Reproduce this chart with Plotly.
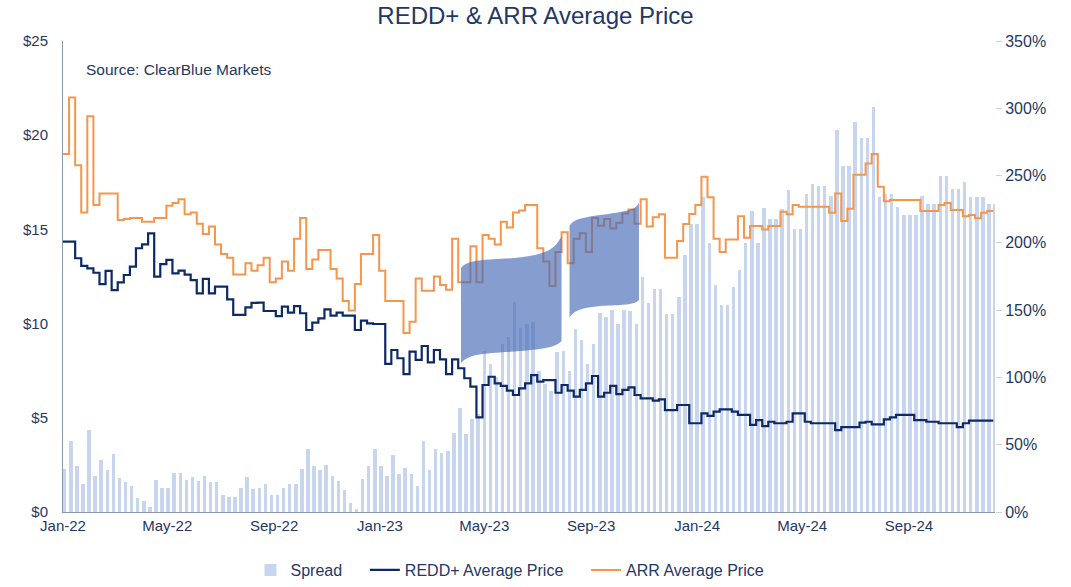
import pandas as pd
import plotly.graph_objects as go

# ---------------- data (weekly, starting 1 Jan 2022) ----------------
start_date = "2022-01-01"

arr_price = [
    19.0, 22.0, 18.4, 15.9, 21.0, 16.3, 16.9, 16.9, 16.9, 15.5,
    15.55, 15.6, 15.6, 15.4, 15.4, 15.6, 15.6, 16.25, 16.4, 16.6,
    15.8, 15.9, 15.3, 14.75, 15.15, 14.2, 13.7, 13.5, 12.6, 12.6,
    13.2, 12.8, 13.1, 13.5, 12.2, 12.4, 13.3, 12.8, 14.5, 15.6,
    12.9, 13.4, 13.9, 13.9, 12.9, 12.4, 11.2, 10.7, 12.1, 13.7,
    13.7, 14.7, 12.8, 11.2, 11.2, 11.2, 9.5, 10.1, 12.4, 11.75,
    11.75, 12.5, 12.05, 11.8, 14.5, 12.2, 12.2, 14.1, 12.2, 14.7,
    14.5, 14.2, 15.4, 15.1, 15.9, 16.0, 16.3, 16.3, 14.0, 13.3,
    12.0, 13.8, 14.85, 13.2, 14.5, 14.8, 13.8, 15.6, 15.2, 15.55,
    15.05, 15.35, 15.85, 16.05, 15.3, 16.6, 15.15, 15.64, 15.8, 13.5,
    13.5, 14.38, 15.29, 15.82, 16.3, 17.8, 16.7, 14.5, 13.8, 14.47,
    14.47, 15.7, 14.56, 15.18, 15.18, 15.0, 15.18, 15.18, 15.94, 15.8,
    16.3, 16.2, 16.2, 16.2, 16.2, 16.2, 15.89, 16.9, 15.45, 16.1,
    17.9, 17.9, 18.5, 19.0, 17.27, 16.5, 16.56, 16.56, 16.56, 16.56,
    16.56, 15.98, 15.98, 15.98, 16.3, 16.4, 16.03, 16.03, 15.7, 15.76,
    15.59, 15.89, 15.98, 15.98,
]

redd_price = [
    14.35, 14.35, 13.47, 13.06, 12.93, 12.7, 12.1, 12.8, 11.78, 12.19,
    12.58, 13.02, 14.0, 14.2, 14.79, 12.49, 13.16, 13.38, 12.67, 12.81,
    12.6, 12.31, 11.6, 12.37, 11.6, 11.96, 11.96, 11.29, 10.46, 10.46,
    10.86, 11.1, 11.11, 10.67, 10.67, 10.4, 10.9, 10.58, 10.93, 10.55,
    9.66, 10.05, 10.28, 10.76, 10.42, 10.58, 10.42, 10.42, 9.66, 10.16,
    10.01, 9.98, 9.98, 7.86, 8.6, 8.16, 7.32, 8.51, 8.07, 8.81,
    7.94, 8.6, 8.1, 7.32, 8.1, 7.63, 7.1, 6.65, 5.02, 6.74,
    7.18, 6.83, 6.69, 6.44, 6.21, 6.56, 6.83, 7.27, 6.92, 7.0,
    7.0, 6.33, 6.74, 6.44, 6.12, 6.48, 6.83, 7.22, 6.12, 6.33,
    6.69, 6.26, 6.48, 6.62, 6.21, 6.03, 6.03, 5.91, 5.98, 5.41,
    5.41, 5.68, 5.68, 4.71, 4.71, 5.24, 5.1, 5.33, 5.45, 5.45,
    5.33, 5.15, 5.15, 4.62, 4.88, 4.56, 4.79, 4.71, 4.71, 4.79,
    5.24, 5.24, 4.79, 4.71, 4.71, 4.71, 4.71, 4.35, 4.5, 4.5,
    4.5, 4.74, 4.79, 4.65, 4.65, 4.92, 5.02, 5.15, 5.15, 5.15,
    4.88, 4.88, 4.79, 4.79, 4.71, 4.71, 4.71, 4.5, 4.71, 4.85,
    4.85, 4.85, 4.85, 4.85,
]

spread_pct = [
    32, 53, 34, 21, 61, 27, 39, 31, 43, 25,
    22.5, 19, 10.7, 8, 3.5, 24, 18, 18, 29, 29,
    24, 26, 23, 27, 22, 22, 13, 11, 11, 18,
    26, 17, 17.5, 21, 13, 13, 18, 21, 21, 32,
    47, 34, 31, 35, 27, 23, 16, 6.4, 2, 24.5,
    34, 47, 34, 27, 42, 28, 33, 28, 19, 53,
    31.5, 47, 44, 45.5, 59, 77, 58, 69, 73, 120,
    110, 100, 125, 130, 156, 137, 140, 141, 105, 95,
    90, 119, 120, 105, 136, 128, 110, 125, 148, 145,
    150, 140, 150, 149, 140, 175, 155, 166, 166, 147,
    147, 160, 191, 214, 214, 234, 200, 169, 154, 154,
    167, 180, 200, 224, 200, 226, 218, 218, 225, 239,
    210, 210, 236, 244, 242, 242, 235, 284, 257, 257,
    290, 278, 278, 301, 234, 236, 236, 227, 221, 221,
    221, 235, 229, 229, 250, 250, 240, 240, 245, 234,
    234, 234, 229, 229,
]

price_ticks = [0, 5, 10, 15, 20, 25]
pct_ticks = [0, 50, 100, 150, 200, 250, 300, 350]

dates = pd.date_range(start_date, periods=len(redd_price), freq="7D")

# ---------------- styling ----------------
NAVY_TEXT = "#1f3864"
REDD_COLOR = "#0d2a66"
ARR_COLOR = "#f5964a"
BAR_COLOR = "rgba(143,172,222,0.5)"
AXIS_LINE = "#8c97b3"
FONT = "Liberation Sans, Arial, sans-serif"

W, H = 1071, 587
L, R, T, B = 63, 76, 41, 75
PW, PH = W - L - R, H - T - B


def paper(px, py):
    return (px - L) / PW, (H - B - py) / PH


def logo_path(points):
    parts = []
    for cmd, pts in points:
        coords = " ".join("%.4f,%.4f" % paper(x, y) for x, y in pts)
        parts.append(cmd + " " + coords)
    return " ".join(parts) + " Z"


fig = go.Figure()

fig.add_trace(go.Bar(
    x=dates, y=spread_pct, name="Spread\u00a0\u00a0\u00a0\u00a0",
    marker=dict(color=BAR_COLOR, line=dict(width=0)),
    width=4.0 * 86400000, offset=0,
    yaxis="y",
))
fig.add_trace(go.Scatter(
    x=dates, y=redd_price, name="REDD+ Average Price\u00a0\u00a0\u00a0\u00a0", mode="lines",
    line=dict(color=REDD_COLOR, width=2.2, shape="hv"), yaxis="y2",
))
fig.add_trace(go.Scatter(
    x=dates, y=arr_price, name="ARR Average Price", mode="lines",
    line=dict(color=ARR_COLOR, width=2, shape="hv"), yaxis="y2",
))

# ClearBlue logo watermark (decorative)
left_flag = [
    ("M", [(461, 268)]),
    ("C", [(470, 256), (500, 262), (535, 255)]),
    ("C", [(552, 251), (556, 246), (561.5, 236.5)]),
    ("L", [(561.5, 341)]),
    ("C", [(556, 347), (545, 349), (520, 351)]),
    ("C", [(485, 354), (470, 353), (461, 363)]),
]
right_flag = [
    ("M", [(569.5, 226)]),
    ("C", [(574, 216), (600, 216), (620, 212)]),
    ("C", [(632, 210), (636, 208), (639, 203)]),
    ("L", [(639, 300)]),
    ("C", [(634, 306), (615, 305), (600, 306)]),
    ("C", [(582, 308), (574, 310), (569.5, 318)]),
]
shapes = []
for flag in (left_flag, right_flag):
    shapes.append(dict(
        type="path", xref="paper", yref="paper", path=logo_path(flag),
        fillcolor="rgba(70,106,182,0.66)", line=dict(width=0), layer="above",
    ))

fig.update_layout(
    width=W, height=H,
    margin=dict(l=L, r=R, t=T, b=B, autoexpand=False),
    paper_bgcolor="white", plot_bgcolor="white",
    font=dict(family=FONT, size=15, color=NAVY_TEXT),
    title=dict(text="REDD+ & ARR Average Price", x=0.5, xanchor="center",
               y=1 - 16 / H, yanchor="middle", yref="container",
               font=dict(size=24, color=NAVY_TEXT, family=FONT)),
    bargap=0,
    showlegend=True,
    legend=dict(orientation="h", x=0.4796, xanchor="center",
                yref="container", y=0, yanchor="bottom",
                font=dict(size=16, color=NAVY_TEXT), itemwidth=30,
                traceorder="normal", bgcolor="rgba(0,0,0,0)"),
    xaxis=dict(
        type="date", range=["2022-01-01", "2024-12-09"],
        tickformat="%b-%y", dtick="M4", tick0="2022-01-01",
        showgrid=False, showline=True, linecolor=AXIS_LINE, linewidth=1,
        ticks="", tickfont=dict(size=15, color=NAVY_TEXT), zeroline=False,
    ),
    yaxis=dict(
        side="right", range=[0, 350], tickvals=pct_ticks,
        ticktext=[f"{v}%" for v in pct_ticks],
        showgrid=False, showline=False, zeroline=False,
        ticks="outside", ticklen=6, tickcolor="#d0d0d0",
        tickfont=dict(size=16, color=NAVY_TEXT),
    ),
    yaxis2=dict(
        side="left", overlaying="y", range=[0, 25], tickvals=price_ticks,
        ticktext=[f"${v}" for v in price_ticks],
        showgrid=False, showline=True, linecolor=AXIS_LINE, linewidth=1,
        zeroline=False, ticks="", ticklabelstandoff=11,
        tickfont=dict(size=15, color=NAVY_TEXT),
    ),
    shapes=shapes,
    annotations=[dict(
        text="Source: ClearBlue Markets", xref="paper", yref="paper",
        x=paper(84, 69)[0], y=paper(84, 69)[1], xanchor="left", yanchor="middle",
        showarrow=False, font=dict(size=15.5, color=NAVY_TEXT, family=FONT),
    )],
)

fig.write_html("out.html", config={"displayModeBar": False},
               post_script="document.body.style.margin='0';")
